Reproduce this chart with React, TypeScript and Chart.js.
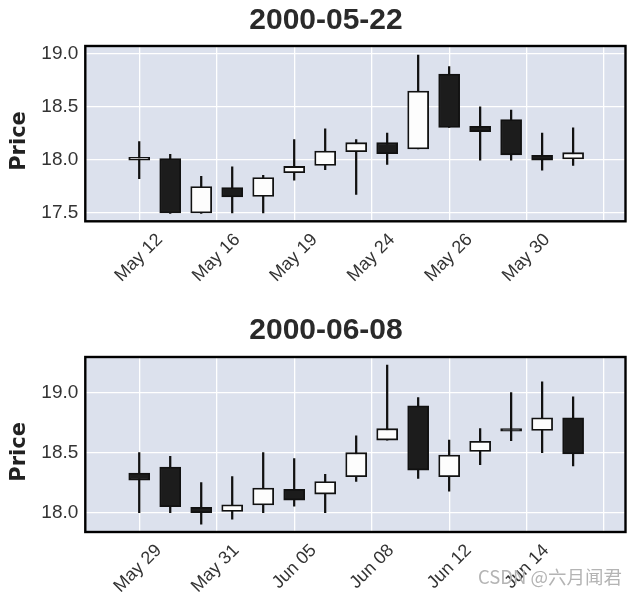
import React, { useEffect, useRef } from "react";
import { Chart, registerables } from "chart.js";

Chart.register(...registerables);

// ---------- Data ----------
const topTitle = "2000-05-22";
const topTickLabels = ["May 12", "May 16", "May 19", "May 24", "May 26", "May 30", ""];
const topOpen = [17.995, 18.01, 17.495, 17.735, 17.65, 17.875, 17.945, 18.075, 18.16, 18.1, 18.81, 18.315, 18.38, 18.04, 18.005];
const topHigh = [18.17, 18.05, 17.84, 17.93, 17.85, 18.19, 18.29, 18.19, 18.25, 18.99, 18.88, 18.5, 18.47, 18.25, 18.3];
const topLow = [17.82, 17.49, 17.49, 17.495, 17.495, 17.805, 17.905, 17.67, 17.955, 18.1, 18.305, 17.995, 17.995, 17.9, 17.945];
const topClose = [18.02, 17.495, 17.745, 17.645, 17.83, 17.935, 18.08, 18.16, 18.055, 18.65, 18.305, 18.265, 18.045, 17.995, 18.065];
const topYTicks = [17.5, 18.0, 18.5, 19.0];

const bottomTitle = "2000-06-08";
const bottomTickLabels = ["May 29", "May 31", "Jun 05", "Jun 08", "Jun 12", "Jun 14", ""];
const bottomOpen = [18.33, 18.38, 18.045, 18.01, 18.065, 18.195, 18.155, 18.3, 18.605, 18.89, 18.3, 18.51, 18.7, 18.685, 18.79];
const bottomHigh = [18.5, 18.47, 18.25, 18.3, 18.5, 18.45, 18.32, 18.64, 19.23, 18.96, 18.605, 18.7, 19.0, 19.09, 18.965];
const bottomLow = [18.0, 18.0, 17.905, 17.945, 18.0, 18.055, 18.0, 18.26, 18.605, 18.285, 18.18, 18.4, 18.6, 18.5, 18.39];
const bottomClose = [18.27, 18.05, 18.0, 18.065, 18.205, 18.105, 18.26, 18.5, 18.7, 18.355, 18.48, 18.595, 18.68, 18.79, 18.49];
const bottomYTicks = [18.0, 18.5, 19.0];

const xTickPositions = [0, 2.5, 5, 7.5, 10, 12.5, 15];
const yLabel = "Price";
const watermark = "CSDN @六月闻君";

// ---------- Styles ----------
const PLOT_BG = "#dce1ed";
const UP_FILL = "#fdfdfd";
const DOWN_FILL = "#1c1c1c";
const EDGE = "#111111";

type CandleProps = {
  title: string;
  open: number[];
  high: number[];
  low: number[];
  close: number[];
  yTicks: number[];
  yMin: number;
  yMax: number;
  xLabels: string[];
  height: number;
  titlePadTop: number;
  titlePadBottom: number;
  xAxisHeight: number;
  labelOffset: number;
};

const bgPlugin = {
  id: "plotBg",
  beforeDraw(chart: any) {
    const { ctx, chartArea } = chart;
    ctx.save();
    ctx.fillStyle = PLOT_BG;
    ctx.fillRect(chartArea.left, chartArea.top, chartArea.right - chartArea.left, chartArea.bottom - chartArea.top);
    ctx.restore();
  },
  afterDraw(chart: any) {
    const { ctx, chartArea } = chart;
    ctx.save();
    ctx.strokeStyle = "#000";
    ctx.lineWidth = 2.4;
    ctx.strokeRect(chartArea.left, chartArea.top, chartArea.right - chartArea.left, chartArea.bottom - chartArea.top);
    ctx.restore();
  },
};

function CandleChart(p: CandleProps) {
  const ref = useRef<HTMLCanvasElement | null>(null);
  useEffect(() => {
    if (!ref.current) return;
    const idx = p.open.map((_, i) => i);
    const bodies = idx.map((i) => ({ x: i, y: [p.open[i], p.close[i]] }));
    const wicks = idx.map((i) => ({ x: i, y: [p.low[i], p.high[i]] }));
    const fills = idx.map((i) => (p.close[i] >= p.open[i] ? UP_FILL : DOWN_FILL));
    const chart = new Chart(ref.current, {
      type: "bar",
      data: {
        datasets: [
          {
            data: bodies as any,
            backgroundColor: fills,
            borderColor: EDGE,
            borderWidth: 1.8,
            borderSkipped: false,
            barThickness: 21,
            grouped: false,
            order: 0,
          } as any,
          {
            data: wicks as any,
            backgroundColor: EDGE,
            borderWidth: 0,
            barThickness: 1.6,
            grouped: false,
            order: 1,
          } as any,
        ],
      },
      plugins: [bgPlugin],
      options: {
        animation: false,
        responsive: false,
        maintainAspectRatio: false,
        layout: { padding: { left: 12, right: 0, top: 0, bottom: 0 } },
        plugins: {
          legend: { display: false },
          tooltip: { enabled: false },
          title: {
            display: true,
            text: p.title,
            color: "#2a2a2a",
            font: { family: "Liberation Sans", size: 30, weight: "bold", lineHeight: 1.2 },
            padding: { top: p.titlePadTop, bottom: p.titlePadBottom },
          },
        },
        scales: {
          x: {
            type: "linear",
            min: -1.74,
            max: 15.69,
            offset: false,
            afterBuildTicks: (s: any) => {
              s.ticks = xTickPositions.map((v) => ({ value: v }));
            },
            afterFit: (s: any) => {
              s.height = p.xAxisHeight;
            },
            grid: { color: "#ffffff", lineWidth: 1.3, drawTicks: false, offset: false },
            border: { display: false },
            ticks: {
              autoSkip: false,
              maxRotation: 45,
              minRotation: 45,
              padding: 8,
              labelOffset: p.labelOffset,
              color: "#333333",
              font: { family: "Liberation Sans", size: 18 },
              callback: (v: any) => {
                const k = xTickPositions.indexOf(Number(v));
                return k >= 0 ? p.xLabels[k] : "";
              },
            },
          },
          y: {
            type: "linear",
            position: "left",
            min: p.yMin,
            max: p.yMax,
            afterBuildTicks: (s: any) => {
              s.ticks = p.yTicks.map((v) => ({ value: v }));
            },
            afterFit: (s: any) => {
              s.width = 73.3;
            },
            grid: { color: "#ffffff", lineWidth: 1.3, drawTicks: false },
            border: { display: false },
            ticks: {
              padding: 7,
              color: "#333333",
              font: { family: "Liberation Sans", size: 19 },
              callback: (v: any) => Number(v).toFixed(1),
            },
            title: {
              display: true,
              text: yLabel + "  ",
              color: "#222222",
              font: { family: "DejaVu Sans", size: 21, weight: "bold", lineHeight: 1.2 },
              padding: { top: -4.6, bottom: 0 },
            },
          },
          yR: {
            type: "linear",
            position: "right",
            display: true,
            grid: { display: false, drawTicks: false },
            border: { display: false },
            ticks: { display: false },
            afterFit: (s: any) => {
              s.width = 14.5;
            },
          },
        },
      } as any,
    });
    return () => chart.destroy();
  }, []);
  return <canvas ref={ref} width={640} height={p.height} style={{ display: "block", width: 640, height: p.height }} />;
}

export default function App() {
  return (
    <div style={{ position: "absolute", left: 0, top: 0, width: 640, height: 595, background: "#fff", overflow: "hidden" }}>
      <CandleChart
        title={topTitle}
        open={topOpen}
        high={topHigh}
        low={topLow}
        close={topClose}
        yTicks={topYTicks}
        yMin={17.415}
        yMax={19.076}
        xLabels={topTickLabels}
        height={300}
        titlePadTop={3}
        titlePadBottom={7}
        xAxisHeight={78.7}
        labelOffset={20.5}
      />
      <CandleChart
        title={bottomTitle}
        open={bottomOpen}
        high={bottomHigh}
        low={bottomLow}
        close={bottomClose}
        yTicks={bottomYTicks}
        yMin={17.839}
        yMax={19.2975}
        xLabels={bottomTickLabels}
        height={295}
        titlePadTop={13}
        titlePadBottom={8}
        xAxisHeight={63}
        labelOffset={19.5}
      />
      <div
        style={{
          position: "absolute",
          left: 478,
          top: 565,
          fontFamily: "'Noto Sans CJK SC', 'Noto Sans', sans-serif",
          fontSize: 18.5,
          color: "#b4b4b4",
          whiteSpace: "nowrap",
          lineHeight: "22px",
        }}
      >
        {watermark}
      </div>
    </div>
  );
}
